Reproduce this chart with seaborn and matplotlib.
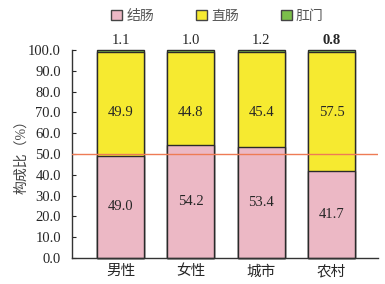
import matplotlib
matplotlib.use('Agg')
import matplotlib.pyplot as plt
import matplotlib.patches as mpatches
import seaborn as sns
import pandas as pd
import numpy as np

groups = ['男性', '女性', '城市', '农村']
colon = [49.0, 54.2, 53.4, 41.7]
rectum = [49.9, 44.8, 45.4, 57.5]
anus = [1.1, 1.0, 1.2, 0.8]
series_names = ['结肠', '直肠', '肛门']
series_colors = ['#ecb8c5', '#f6ea30', '#7bbf4a']
yticks = np.arange(0, 101, 10)

sns.set_style('white')
plt.rcParams['font.family'] = ['Liberation Serif', 'Noto Sans CJK SC']

df = pd.DataFrame({'group': groups, 'colon': colon, 'rectum': rectum, 'anus': anus})
df['c1'] = df['colon']
df['c2'] = df['colon'] + df['rectum']
df['c3'] = df['c2'] + df['anus']

fig = plt.figure(figsize=(3.85, 2.84), dpi=100)
ax = fig.add_axes([0.187, 0.092, 0.795, 0.732])

edge = '#2a2a2a'
# overlay cumulative bars, tallest first
for col, color in zip(['c3', 'c2', 'c1'], series_colors[::-1]):
    sns.barplot(data=df, x='group', y=col, order=groups, color=color,
                edgecolor=edge, linewidth=1.0, width=0.667, saturation=1,
                ax=ax, clip_on=False)

for i, row in df.iterrows():
    ax.text(i, row['colon'] / 2, f"{row['colon']:.1f}", ha='center', va='center', fontsize=10.5)
    ax.text(i, 70, f"{row['rectum']:.1f}", ha='center', va='center', fontsize=10.5)
    ax.text(i, row['c3'] + 1.2, f"{row['anus']:.1f}", ha='center', va='bottom', fontsize=10.5,
            fontweight='bold' if row['anus'] < 1 else 'normal')

ax.axhline(50, color='#ee7b55', linewidth=1.0, zorder=5)

ax.set_xlim(-0.69, 3.66)
ax.set_ylim(0, 100)
ax.set_yticks(yticks)
ax.set_yticklabels([f'{v:.1f}' for v in yticks], fontsize=10.5)
ax.tick_params(axis='y', direction='in', length=3, width=0.8, left=True, pad=8)
ax.tick_params(axis='x', length=0, labelsize=10.5, pad=5)
ax.set_xlabel('')
ax.set_ylabel('构成比（%）', fontsize=10, color='#444444', labelpad=0)
for s in ['top', 'right']:
    ax.spines[s].set_visible(False)
for s in ['left', 'bottom']:
    ax.spines[s].set_color('#333333')
    ax.spines[s].set_linewidth(1.0)

handles = [mpatches.Patch(facecolor=c, edgecolor='#444444', linewidth=1.0) for c in series_colors]
fig.legend(handles, series_names, loc='center', bbox_to_anchor=(0.565, 0.943), ncol=3,
           frameon=False, fontsize=10, handlelength=0.8, handleheight=0.8,
           handletextpad=0.3, columnspacing=3.0, labelcolor='#555555')

fig.savefig('out.png', dpi=100)
